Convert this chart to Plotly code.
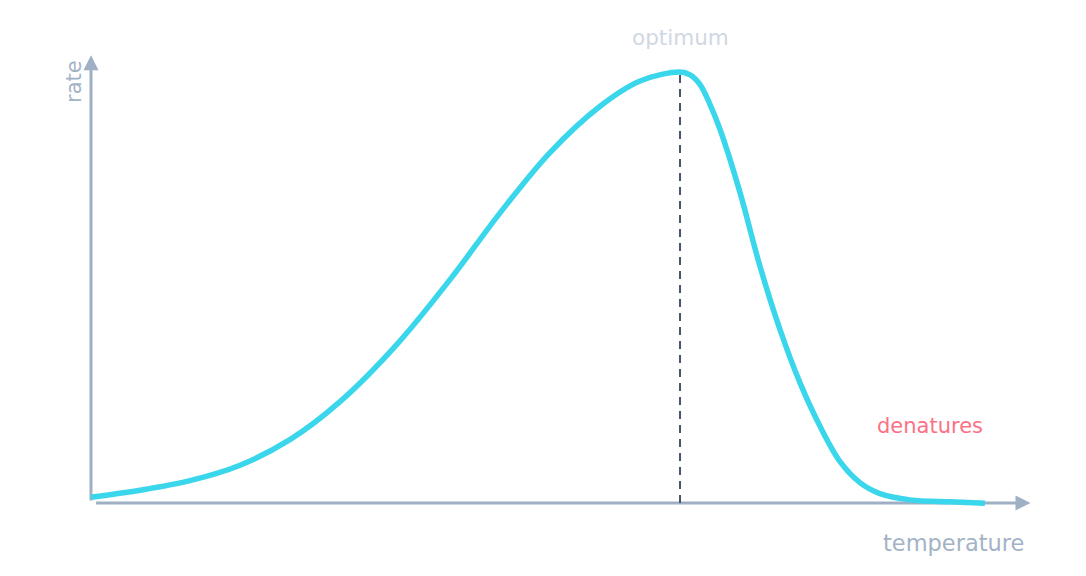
import plotly.graph_objects as go

# enzyme activity vs temperature
temperature = [0.0, 3.33, 6.72, 10.12, 13.51, 16.91, 20.76, 24.38, 27.78,
               31.17, 34.57, 37.29, 40.0, 40.68, 41.36, 42.04, 42.72, 44.08,
               45.43, 46.79, 48.15, 49.51, 50.87, 52.22, 53.58, 55.62, 58.34,
               60.71]
rate = [1.35, 2.97, 5.18, 8.77, 14.69, 23.51, 36.75, 51.83, 67.32,
        81.31, 92.06, 97.91, 100.0, 99.35, 97.1, 92.46, 86.65, 71.96,
        54.92, 40.23, 27.86, 17.78, 9.59, 4.71, 2.16, 0.72, 0.26,
        -0.07]

optimum_t = 40.0
optimum_rate = 100.0

# hand drawn axes
x_axis_t = [0.34, 63.0]
y_axis_r = [0.6, 102.5]
x_tip = 63.8
y_tip = 103.9

AXIS = "#9fb0c4"
CURVE = "#3ad6eb"
FONT = "DejaVu Sans"

fig = go.Figure()

fig.add_trace(go.Scatter(x=x_axis_t, y=[0, 0], mode="lines",
                         line=dict(color=AXIS, width=3), hoverinfo="skip"))
fig.add_trace(go.Scatter(x=[0, 0], y=y_axis_r, mode="lines",
                         line=dict(color=AXIS, width=3), hoverinfo="skip"))

fig.add_trace(go.Scatter(x=temperature, y=rate, mode="lines",
                         line=dict(color=CURVE, width=5.5, shape="spline", smoothing=1)))

fig.add_trace(go.Scatter(x=[optimum_t, optimum_t], y=[0, optimum_rate], mode="lines",
                         line=dict(color="#475569", width=2, dash="8px,6px"),
                         hoverinfo="skip"))

# arrow heads
fig.add_annotation(x=x_tip, y=0, ax=-14, ay=0, text="", showarrow=True,
                   arrowhead=2, arrowsize=1.0, arrowwidth=3, arrowcolor=AXIS)
fig.add_annotation(x=0, y=y_tip, ax=0, ay=14, text="", showarrow=True,
                   arrowhead=2, arrowsize=1.0, arrowwidth=3, arrowcolor=AXIS)

fig.add_annotation(x=-1.15, y=97.7, text="rate", showarrow=False, textangle=-90,
                   font=dict(family=FONT, size=21, color="#a3b3c6"))
fig.add_annotation(x=optimum_t, y=107.9, text="optimum", showarrow=False,
                   font=dict(family=FONT, size=21.5, color="#cfd8e3"))
fig.add_annotation(x=58.57, y=-9.3, text="temperature", showarrow=False,
                   font=dict(family=FONT, size=22.5, color="#a3b3c6"))
fig.add_annotation(x=57.0, y=17.9, text="denatures", showarrow=False,
                   font=dict(family=FONT, size=21, color="#fb7185"))

fig.update_layout(
    width=1086, height=576,
    margin=dict(l=0, r=0, t=0, b=0),
    paper_bgcolor="white", plot_bgcolor="white",
    showlegend=False,
    xaxis=dict(range=[-6.18, 67.57], visible=False, fixedrange=True),
    yaxis=dict(range=[-16.94, 116.71], visible=False, fixedrange=True),
)

fig.write_html("out.html", config={"displayModeBar": False},
               post_script="document.body.style.margin='0';")
